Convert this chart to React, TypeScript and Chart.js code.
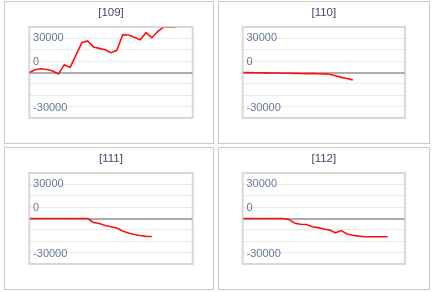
import React, { useEffect, useRef } from "react";
import { Chart, registerables } from "chart.js";

Chart.register(...registerables);

// ---- data ----
const categories = [
  "1", "2", "3", "4", "5", "6", "7", "8", "9", "10",
  "11", "12", "13", "14", "15", "16", "17", "18", "19", "20",
  "21", "22", "23", "24", "25", "26", "27", "28", "29",
];

const titles = ["[109]", "[110]", "[111]", "[112]"];

const series109 = [
  0, 2500, 3300, 2700, 1300, -1200, 6900, 4500, 15300, 26200,
  27700, 22500, 21200, 20000, 17400, 19500, 33200, 33000, 30900, 28800,
  35000, 30600, 36000, 40000, 40000, 40000,
];
const series110 = [
  0, -100, -200, -200, -300, -400, -500, -600, -700, -800,
  -900, -1000, -1000, -1100, -1200, -1500, -2900, -4300, -5300, -6500,
];
const series111 = [
  0, 0, 0, 0, 0, 0, 0, 0, 0, 0,
  0, -3500, -4400, -6100, -7200, -8400, -11000, -12800, -14100, -15000,
  -15700, -15800,
];
const series112 = [
  0, 0, 0, 0, 0, 0, 0, 0, -1000, -4200,
  -5000, -5300, -7200, -8000, -9300, -10200, -12600, -10600, -13600, -14800,
  -15500, -16000, -16100, -16100, -16100, -16100,
];

const yMin = -40000;
const yMax = 40000;
const yStep = 10000;
const yLabelValues = [30000, 0, -30000];
const yLabelTexts = ["30000", "0", "-30000"];

// ---- styles ----
const FONT = "'Liberation Sans', Arial, sans-serif";
const LABEL_OFFSETS = [-0.8, -10.2, 1.3];

const framePlugin = {
  id: "frameBox",
  afterDraw(chart: any) {
    const { ctx, chartArea } = chart;
    ctx.save();
    ctx.strokeStyle = "rgba(190,190,190,0.6)";
    ctx.lineWidth = 2;
    ctx.strokeRect(
      chartArea.left,
      chartArea.top,
      chartArea.right - chartArea.left,
      chartArea.bottom - chartArea.top
    );
    // y labels
    const y = chart.scales.y;
    ctx.fillStyle = "#66779a";
    ctx.font = `11px ${FONT}`;
    ctx.textAlign = "left";
    ctx.textBaseline = "middle";
    yLabelValues.forEach((v, i) => {
      ctx.fillText(
        yLabelTexts[i],
        chartArea.left + 3.8,
        y.getPixelForValue(v) + LABEL_OFFSETS[i]
      );
    });
    ctx.restore();
  },
};

type PanelProps = {
  title: string;
  data: number[];
  left: number;
  top: number;
  width: number;
  height: number;
  padLeft: number;
  padRight: number;
};

function Panel({ title, data, left, top, width, height, padLeft, padRight }: PanelProps) {
  const ref = useRef<HTMLCanvasElement | null>(null);
  useEffect(() => {
    if (!ref.current) return;
    const chart = new Chart(ref.current, {
      type: "line",
      data: {
        labels: categories,
        datasets: [
          {
            data,
            borderColor: "#ff1010",
            borderWidth: 1.6,
            pointRadius: 0,
            tension: 0,
            fill: false,
          },
        ],
      },
      options: {
        animation: false,
        responsive: false,
        maintainAspectRatio: false,
        layout: { padding: { left: padLeft, right: padRight, top: 0, bottom: 25 } },
        plugins: {
          legend: { display: false },
          tooltip: { enabled: false },
          title: {
            display: true,
            text: title,
            color: "#4a3f6e",
            font: { family: FONT, size: 11.5, weight: "normal" },
            padding: { top: 3.6, bottom: 7.6 },
          },
        },
        scales: {
          x: { display: false },
          y: {
            min: yMin,
            max: yMax,
            z: 1,
            ticks: { display: false, stepSize: yStep },
            border: { display: false },
            grid: {
              drawTicks: false,
              color: (ctx: any) => {
                const v = ctx.tick ? ctx.tick.value : null;
                if (v === 0) return "rgba(90,90,90,0.5)";
                if (v === yMin || v === yMax) return "rgba(0,0,0,0)";
                return "rgba(0,0,0,0.08)";
              },
              lineWidth: (ctx: any) => (ctx.tick && ctx.tick.value === 0 ? 2 : 1),
            },
          },
        },
      } as any,
      plugins: [framePlugin],
    });
    return () => chart.destroy();
  }, [title, data, padLeft, padRight]);

  return (
    <div
      style={{
        position: "absolute",
        left,
        top,
        width,
        height,
        border: "1px solid #cacaca",
        boxSizing: "border-box",
        background: "#fff",
      }}
    >
      <canvas
        ref={ref}
        width={width - 2}
        height={height - 2}
        style={{ display: "block", width: width - 2, height: height - 2 }}
      />
    </div>
  );
}

export default function App() {
  return (
    <div
      style={{
        position: "absolute",
        left: 0,
        top: 0,
        width: 434,
        height: 292,
        background: "#fff",
        overflow: "hidden",
      }}
    >
      <Panel title={titles[0]} data={series109} left={4} top={1} width={210} height={143} padLeft={24.3} padRight={20.3} />
      <Panel title={titles[1]} data={series110} left={218} top={1} width={212} height={143} padLeft={23.7} padRight={24} />
      <Panel title={titles[2]} data={series111} left={4} top={147} width={210} height={143} padLeft={24.3} padRight={20.3} />
      <Panel title={titles[3]} data={series112} left={218} top={147} width={212} height={143} padLeft={23.7} padRight={24} />
    </div>
  );
}
